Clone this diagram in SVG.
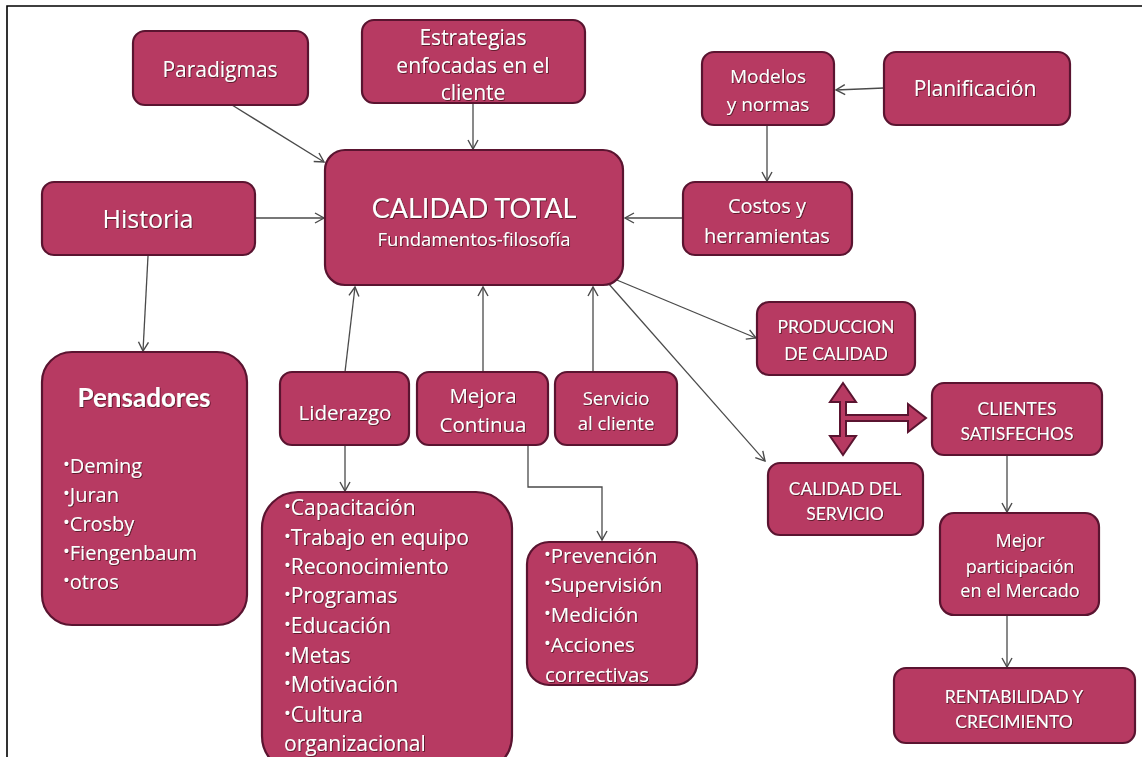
<svg xmlns="http://www.w3.org/2000/svg" width="1142" height="757" viewBox="0 0 1142 757">
<defs>
<style>
.box{fill:#b73a62;stroke:#5a1430;stroke-width:2.2}
.t{fill:#ffffff;font-family:"Open Sans",Lato,"DejaVu Sans",sans-serif;filter:url(#sh)}
.u{fill:#ffffff;font-family:Lato,"Open Sans","DejaVu Sans",sans-serif;filter:url(#sh)}
.c{text-anchor:middle}
.b{font-size:18px}
.ln{fill:none;stroke:#4a4a4a;stroke-width:1.3;marker-end:url(#ah)}
.big{fill:#b73a62;stroke:#5a1430;stroke-width:2}
</style>
<marker id="ah" markerUnits="userSpaceOnUse" markerWidth="14" markerHeight="14" refX="10" refY="6" orient="auto">
<path d="M1,1 L10,6 L1,11" fill="none" stroke="#4a4a4a" stroke-width="1.4"/>
</marker>
<filter id="sh" x="-5%" y="-20%" width="110%" height="140%">
<feDropShadow dx="0.8" dy="0.8" stdDeviation="0.4" flood-color="#3a0818" flood-opacity="0.9"/>
</filter>
</defs>
<rect x="0" y="0" width="1142" height="757" fill="#ffffff"/>
<path d="M7,757 L7,6 L1142,6" fill="none" stroke="#000" stroke-width="1.6"/>

<g id="connectors">
<line class="ln" x1="232" y1="105" x2="324" y2="162"/>
<line class="ln" x1="473" y1="103" x2="473" y2="149"/>
<line class="ln" x1="255" y1="218" x2="324" y2="218"/>
<line class="ln" x1="884" y1="88" x2="836" y2="90"/>
<line class="ln" x1="767" y1="125" x2="767" y2="181"/>
<line class="ln" x1="683" y1="218" x2="625" y2="218"/>
<line class="ln" x1="148" y1="256" x2="143" y2="351"/>
<line class="ln" x1="345" y1="372" x2="355" y2="287"/>
<line class="ln" x1="483" y1="372" x2="483" y2="287"/>
<line class="ln" x1="593" y1="372" x2="593" y2="287"/>
<line class="ln" x1="612" y1="278" x2="756" y2="338"/>
<line class="ln" x1="608" y1="283" x2="765" y2="461"/>
<line class="ln" x1="345" y1="446" x2="345" y2="491"/>
<polyline class="ln" points="528,446 528,487 602,487 602,540"/>
<line class="ln" x1="1007" y1="456" x2="1007" y2="512"/>
<line class="ln" x1="1007" y1="616" x2="1007" y2="667"/>
</g>

<g id="double-arrow">
<path class="big" d="M843,383 L856,402 L846,402 L846,415 L908,415 L908,404 L926,418 L908,432 L908,421 L846,421 L846,436 L856,436 L843,455 L830,436 L840,436 L840,402 L830,402 Z"/>
</g>

<g id="paradigmas"><rect class="box" x="133" y="31" width="175" height="74" rx="12"/>
<text class="t c" x="220" y="77" font-size="21">Paradigmas</text></g>

<g id="estrategias"><rect class="box" x="362" y="20" width="223" height="83" rx="12"/>
<text class="t c" x="473" y="45" font-size="21">Estrategias</text>
<text class="t c" x="473" y="73" font-size="21">enfocadas en el</text>
<text class="t c" x="473" y="100" font-size="21">cliente</text></g>

<g id="modelos"><rect class="box" x="702" y="52" width="132" height="73" rx="12"/>
<text class="t c" x="768" y="83" font-size="19">Modelos</text>
<text class="t c" x="768" y="111" font-size="19">y normas</text></g>

<g id="planificacion"><rect class="box" x="884" y="52" width="186" height="73" rx="12"/>
<text class="t c" x="975" y="96" font-size="21">Planificación</text></g>

<g id="historia"><rect class="box" x="42" y="182" width="213" height="73" rx="12"/>
<text class="t c" x="148" y="228" font-size="25">Historia</text></g>

<g id="calidad-total"><rect class="box" x="325" y="150" width="298" height="135" rx="20"/>
<text class="u c" x="474" y="218" font-size="27">CALIDAD TOTAL</text>
<text class="t c" x="474" y="246" font-size="18.5">Fundamentos-filosofía</text></g>

<g id="costos"><rect class="box" x="683" y="182" width="169" height="73" rx="12"/>
<text class="t c" x="767" y="213" font-size="20">Costos y</text>
<text class="t c" x="767" y="243" font-size="20">herramientas</text></g>

<g id="pensadores"><rect class="box" x="42" y="352" width="205" height="273" rx="30"/>
<text class="u c" x="144" y="407" font-size="26" font-weight="bold">Pensadores</text>
<text class="t" x="63" y="473" font-size="20"><tspan class="b" dy="-2">•</tspan><tspan dy="2">Deming</tspan></text>
<text class="t" x="63" y="502" font-size="20"><tspan class="b" dy="-2">•</tspan><tspan dy="2">Juran</tspan></text>
<text class="t" x="63" y="531" font-size="20"><tspan class="b" dy="-2">•</tspan><tspan dy="2">Crosby</tspan></text>
<text class="t" x="63" y="560" font-size="20"><tspan class="b" dy="-2">•</tspan><tspan dy="2">Fiengenbaum</tspan></text>
<text class="t" x="63" y="589" font-size="20"><tspan class="b" dy="-2">•</tspan><tspan dy="2">otros</tspan></text></g>

<g id="liderazgo"><rect class="box" x="280" y="372" width="129" height="73" rx="12"/>
<text class="t c" x="345" y="420" font-size="20.5">Liderazgo</text></g>

<g id="mejora"><rect class="box" x="417" y="372" width="131" height="73" rx="12"/>
<text class="t c" x="483" y="403" font-size="20.5">Mejora</text>
<text class="t c" x="483" y="432" font-size="20.5">Continua</text></g>

<g id="servicio"><rect class="box" x="555" y="372" width="122" height="73" rx="12"/>
<text class="t c" x="616" y="405" font-size="18.5">Servicio</text>
<text class="t c" x="616" y="430" font-size="18.5">al cliente</text></g>

<g id="lista-liderazgo"><rect class="box" x="262" y="492" width="250" height="280" rx="36"/>
<text class="t" x="284" y="515" font-size="21"><tspan class="b" dy="-2">•</tspan><tspan dy="2">Capacitación</tspan></text>
<text class="t" x="284" y="545" font-size="21"><tspan class="b" dy="-2">•</tspan><tspan dy="2">Trabajo en equipo</tspan></text>
<text class="t" x="284" y="574" font-size="21"><tspan class="b" dy="-2">•</tspan><tspan dy="2">Reconocimiento</tspan></text>
<text class="t" x="284" y="603" font-size="21"><tspan class="b" dy="-2">•</tspan><tspan dy="2">Programas</tspan></text>
<text class="t" x="284" y="633" font-size="21"><tspan class="b" dy="-2">•</tspan><tspan dy="2">Educación</tspan></text>
<text class="t" x="284" y="663" font-size="21"><tspan class="b" dy="-2">•</tspan><tspan dy="2">Metas</tspan></text>
<text class="t" x="284" y="692" font-size="21"><tspan class="b" dy="-2">•</tspan><tspan dy="2">Motivación</tspan></text>
<text class="t" x="284" y="722" font-size="21"><tspan class="b" dy="-2">•</tspan><tspan dy="2">Cultura</tspan></text>
<text class="t" x="284" y="751" font-size="21">organizacional</text></g>

<g id="lista-mejora"><rect class="box" x="527" y="542" width="170" height="143" rx="22"/>
<text class="t" x="544" y="563" font-size="20.5"><tspan class="b" dy="-2">•</tspan><tspan dy="2">Prevención</tspan></text>
<text class="t" x="544" y="592" font-size="20.5"><tspan class="b" dy="-2">•</tspan><tspan dy="2">Supervisión</tspan></text>
<text class="t" x="544" y="622" font-size="20.5"><tspan class="b" dy="-2">•</tspan><tspan dy="2">Medición</tspan></text>
<text class="t" x="544" y="652" font-size="20.5"><tspan class="b" dy="-2">•</tspan><tspan dy="2">Acciones</tspan></text>
<text class="t" x="545" y="682" font-size="20.5">correctivas</text></g>

<g id="produccion"><rect class="box" x="757" y="302" width="158" height="73" rx="12"/>
<text class="u c" x="836" y="333" font-size="17.5">PRODUCCION</text>
<text class="u c" x="836" y="360" font-size="17.5">DE CALIDAD</text></g>

<g id="clientes"><rect class="box" x="932" y="383" width="170" height="72" rx="12"/>
<text class="u c" x="1017" y="415" font-size="17.5">CLIENTES</text>
<text class="u c" x="1017" y="440" font-size="17.5">SATISFECHOS</text></g>

<g id="calidad-servicio"><rect class="box" x="768" y="463" width="155" height="72" rx="12"/>
<text class="u c" x="845" y="495" font-size="17.5">CALIDAD DEL</text>
<text class="u c" x="845" y="520" font-size="17.5">SERVICIO</text></g>

<g id="mejor-participacion"><rect class="box" x="940" y="513" width="159" height="102" rx="14"/>
<text class="t c" x="1020" y="547" font-size="18">Mejor</text>
<text class="t c" x="1020" y="573" font-size="18">participación</text>
<text class="t c" x="1020" y="597" font-size="18">en el Mercado</text></g>

<g id="rentabilidad"><rect class="box" x="894" y="668" width="241" height="75" rx="12"/>
<text class="u c" x="1014" y="703" font-size="17.5">RENTABILIDAD Y</text>
<text class="u c" x="1014" y="728" font-size="17.5">CRECIMIENTO</text></g>
</svg>
